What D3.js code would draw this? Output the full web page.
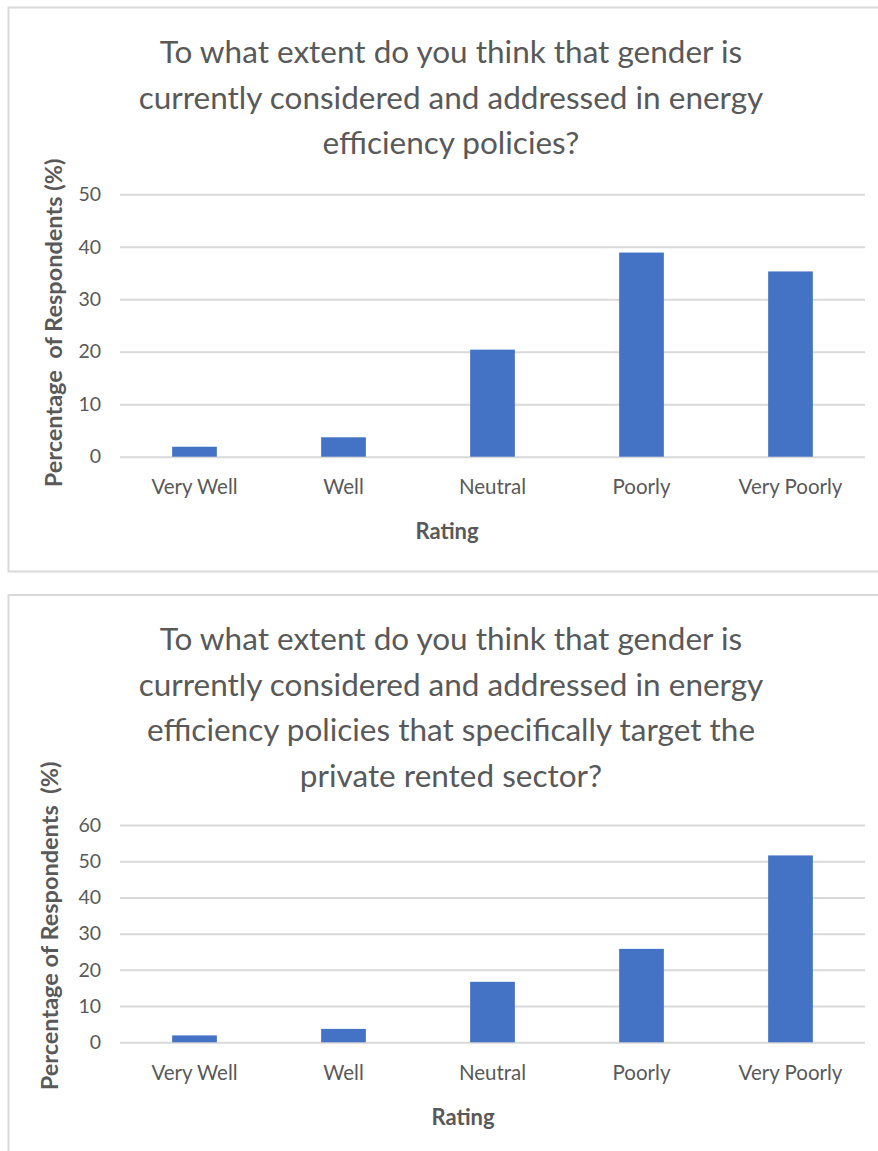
<!DOCTYPE html>
<html>
<head>
<meta charset="utf-8">
<script src="https://cdn.jsdelivr.net/npm/d3@7"></script>
<style>
  html, body { margin: 0; padding: 0; background: #fff; }
  svg { display: block; }
  text { font-family: Lato, "Open Sans", sans-serif; }
</style>
</head>
<body>
<svg id="chart" width="878" height="1151"></svg>
<script>
// Rating categories shared by both survey questions
const categories = ["Very Well", "Well", "Neutral", "Poorly", "Very Poorly"];

// Percentage of respondents for each rating
const policiesValues = [1.9, 3.7, 20.4, 38.9, 35.3];
const rentedSectorValues = [1.9, 3.7, 16.7, 25.8, 51.6];

// Tick values for each y axis
const policiesTicks = [0, 10, 20, 30, 40, 50];
const rentedSectorTicks = [0, 10, 20, 30, 40, 50, 60];

// Title lines
const policiesTitle = [
  "To what extent do you think that gender is",
  "currently considered and addressed in energy",
  "efficiency policies?"
];
const rentedSectorTitle = [
  "To what extent do you think that gender is",
  "currently considered and addressed in energy",
  "efficiency policies that specifically target the",
  "private rented sector?"
];

const svg = d3.select("#chart");
const BAR = "#4472c4";
const GRID = "#d9d9d9";
const TEXT = "#595959";
const FONT = "Lato, 'Open Sans', sans-serif";

function panel(cfg) {
  const g = svg.append("g");

  // chart frame
  g.append("rect")
    .attr("x", 8.5).attr("y", cfg.frameTop)
    .attr("width", 900).attr("height", cfg.frameHeight)
    .attr("fill", "#fff").attr("stroke", GRID).attr("stroke-width", 2);

  // title
  g.append("g").selectAll("text").data(cfg.title).join("text")
    .attr("x", 451)
    .attr("y", (d, i) => cfg.titleY + i * 45.5)
    .attr("text-anchor", "middle")
    .attr("dominant-baseline", "central")
    .attr("font-size", 31.5)
    .attr("fill", TEXT)
    .text(d => d);

  const x = d3.scaleBand().domain(categories)
    .range([120, 865]).paddingInner(0.7).paddingOuter(0.35);
  const y = d3.scaleLinear().domain([0, cfg.max]).range(cfg.yRange);

  // horizontal gridlines
  g.append("g")
    .attr("transform", "translate(120,0)")
    .call(d3.axisLeft(y).tickValues(cfg.ticks).tickSize(-745).tickFormat(""))
    .call(a => a.select(".domain").remove())
    .call(a => a.selectAll("line").attr("stroke", GRID).attr("stroke-width", 2));

  // y tick labels
  g.append("g")
    .attr("transform", "translate(109,0)")
    .call(d3.axisLeft(y).tickValues(cfg.ticks).tickSize(0).tickPadding(8))
    .call(a => a.select(".domain").remove())
    .call(a => a.selectAll("text")
      .attr("font-family", FONT)
      .attr("font-size", 19.5).attr("fill", TEXT));

  // bars
  g.append("g").selectAll("rect").data(cfg.values).join("rect")
    .attr("x", (d, i) => x(categories[i]))
    .attr("width", x.bandwidth())
    .attr("y", d => y(d))
    .attr("height", d => y(0) - y(d))
    .attr("fill", BAR);

  // category labels
  g.append("g")
    .attr("transform", `translate(0,${cfg.yRange[0]})`)
    .call(d3.axisBottom(x).tickSize(0).tickPadding(cfg.catPad))
    .call(a => a.select(".domain").remove())
    .call(a => a.selectAll("text")
      .attr("font-family", FONT)
      .attr("font-size", 20.5).attr("fill", TEXT));

  // x axis title
  g.append("text")
    .attr("x", cfg.xTitleX).attr("y", cfg.xTitleY)
    .attr("text-anchor", "middle").attr("dominant-baseline", "central")
    .attr("font-size", 22).attr("font-weight", "bold").attr("fill", TEXT)
    .text("Rating");

  // y axis title
  g.append("text")
    .attr("transform", `translate(${cfg.yTitleX},${cfg.yTitleY}) rotate(-90)`)
    .attr("text-anchor", "middle").attr("dominant-baseline", "central")
    .attr("font-size", 23.5).attr("font-weight", "bold").attr("fill", TEXT)
    .style("white-space", "pre")
    .text(cfg.yTitle);
}

panel({
  frameTop: 7.5, frameHeight: 564,
  title: policiesTitle, titleY: 51,
  values: policiesValues, ticks: policiesTicks, max: 50,
  yRange: [456.7, 194.3],
  catPad: 23,
  xTitleX: 447, xTitleY: 530,
  yTitleX: 53, yTitleY: 323,
  yTitle: "Percentage  of Respondents (%)"
});

panel({
  frameTop: 595, frameHeight: 600,
  title: rentedSectorTitle, titleY: 638,
  values: rentedSectorValues, ticks: rentedSectorTicks, max: 60,
  yRange: [1042.3, 825],
  catPad: 23,
  xTitleX: 463, xTitleY: 1116,
  yTitleX: 49, yTitleY: 926,
  yTitle: "Percentage of Respondents  (%)"
});
</script>
</body>
</html>
